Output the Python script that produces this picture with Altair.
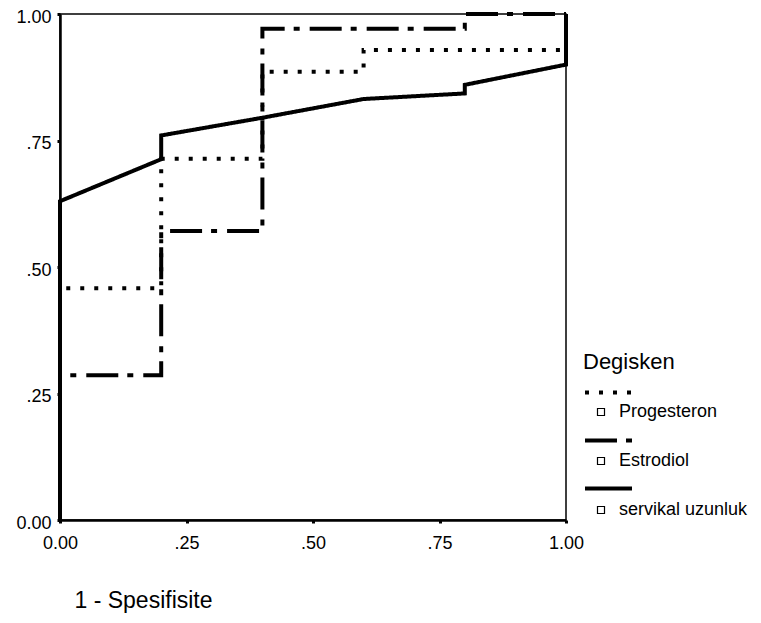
import altair as alt
import pandas as pd

series_names = ["Progesteron", "Estrodiol", "servikal uzunluk"]
series_codes = ["p", "e", "s"]

prog_x = [0.0, 0.0, 0.2, 0.2, 0.4, 0.4, 0.6, 0.6, 1.0, 1.0]
prog_y = [0.0, 0.458, 0.458, 0.714, 0.714, 0.886, 0.886, 0.929, 0.929, 1.0]

estr_x = [0.0, 0.0, 0.2, 0.2, 0.4, 0.4, 0.8, 0.8, 1.0]
estr_y = [0.0, 0.286, 0.286, 0.571, 0.571, 0.971, 0.971, 1.0, 1.0]

serv_x = [0.0, 0.0, 0.2, 0.2, 0.4, 0.6, 0.8, 0.8, 1.0, 1.0]
serv_y = [0.0, 0.63, 0.713, 0.76, 0.795, 0.832, 0.843, 0.86, 0.9, 1.0]

tick_values = [0.0, 0.25, 0.5, 0.75, 1.0]
tick_labels = ["0.00", ".25", ".50", ".75", "1.00"]

rows = []
for name, code, xs, ys in [(series_names[0], series_codes[0], prog_x, prog_y),
                           (series_names[1], series_codes[1], estr_x, estr_y),
                           (series_names[2], series_codes[2], serv_x, serv_y)]:
    for i, (xv, yv) in enumerate(zip(xs, ys)):
        rows.append({"code": code, "series": name, "x": xv, "y": yv, "idx": i})
df = pd.DataFrame(rows)

label_expr = " : ".join(
    f"datum.value == {v} ? '{l}'" for v, l in zip(tick_values, tick_labels)
) + " : ''"

FONT = "Liberation Sans"

x_enc = alt.X("x:Q", scale=alt.Scale(domain=[0, 1], nice=False),
              axis=alt.Axis(values=tick_values, labelExpr=label_expr, grid=False,
                            labelFlush=False,
                            title="1 - Spesifisite", titleAnchor="start", titleAlign="left",
                            titleX=14, titleY=87, titleBaseline="alphabetic",
                            titleFontSize=23, titleFontWeight="normal",
                            labelFontSize=18, labelPadding=11))
y_enc = alt.Y("y:Q", scale=alt.Scale(domain=[0, 1], nice=False),
              axis=alt.Axis(values=tick_values, labelExpr=label_expr, grid=False,
                            labelFlush=False,
                            title=None, labelFontSize=18, labelPadding=6, labelOffset=3))

lines = alt.Chart(df).mark_line(color="black", strokeWidth=4, strokeCap="butt",
                                strokeJoin="miter").encode(
    x=x_enc,
    y=y_enc,
    order="idx:Q",
    detail="code:N",
    strokeDash=alt.StrokeDash(
        "code:N",
        scale=alt.Scale(domain=series_codes, range=[[4, 10], [32, 9, 6, 10], [1, 0]]),
        legend=alt.Legend(title="Degisken", orient="none", legendX=523, legendY=338,
                          symbolType="stroke", symbolSize=2209, symbolStrokeWidth=4,
                          symbolStrokeColor="black", labelExpr="''",
                          titleFontSize=22, titleFontWeight="normal",
                          titlePadding=-7, rowPadding=14, padding=0),
    ),
)

points = alt.Chart(df).mark_point(size=0, shape="square", color="black").encode(
    x=alt.X("x:Q"),
    y=alt.Y("y:Q"),
    shape=alt.Shape(
        "series:N",
        scale=alt.Scale(domain=series_names, range=["square", "square", "square"]),
        legend=alt.Legend(title=None, orient="none", legendX=532, legendY=389,
                          symbolSize=49, symbolStrokeColor="black", symbolFillColor="white",
                          symbolStrokeWidth=1.2, symbolOpacity=1, labelFontSize=18,
                          labelOffset=9, rowPadding=31, padding=0),
    ),
)

chart = alt.layer(lines, points).properties(
    width=506, height=506,
    background="white",
    autosize=alt.AutoSizeParams(type="none"),
    padding={"left": 52, "top": 6, "right": 185, "bottom": 95},
).configure_view(
    stroke="black", strokeWidth=1.5
).configure_axis(
    labelFont=FONT, titleFont=FONT, labelColor="black", titleColor="black",
    domainColor="black", domainWidth=2.5, tickColor="black", tickSize=3, tickWidth=3,
).configure_legend(
    labelFont=FONT, titleFont=FONT, labelColor="black", titleColor="black",
)

chart.save("out.html", embed_options={"renderer": "svg", "actions": False})
